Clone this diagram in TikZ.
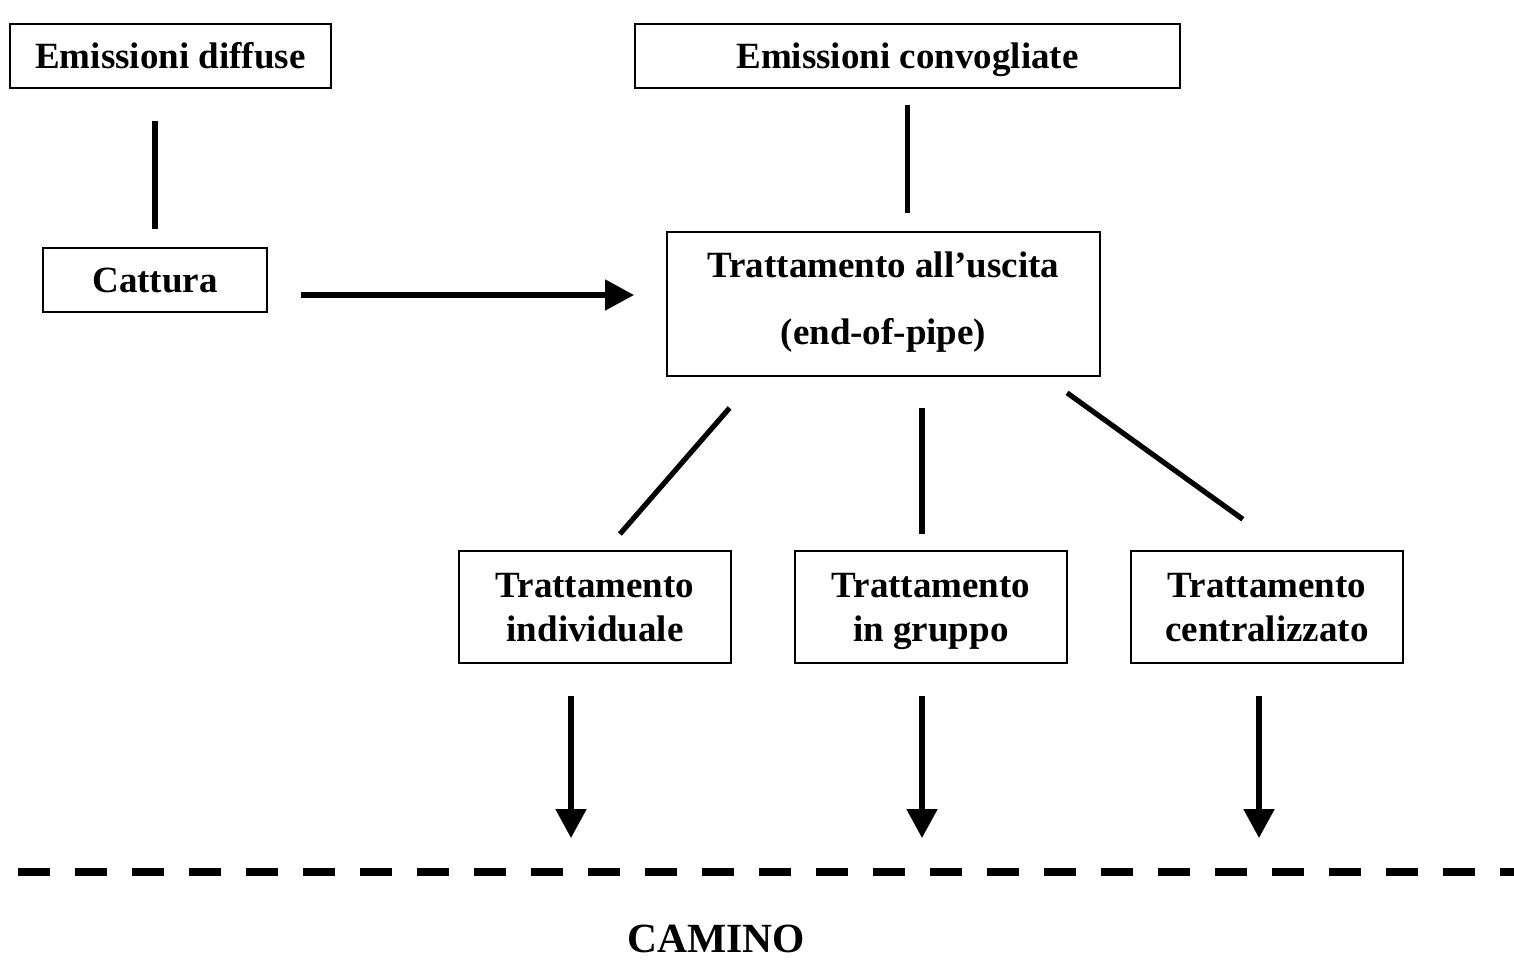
\documentclass[tikz,border=0pt]{standalone}
\usepackage{fontspec}
\setmainfont{Liberation Serif}
\usetikzlibrary{arrows.meta}
\newcommand{\boxstrut}{\rule[-4.8pt]{0pt}{21.8pt}}
\newcommand{\deepstrut}{\rule[-10.5pt]{0pt}{10.5pt}}
\tikzset{
    box/.style = {draw, line width = 1pt, inner sep = 0pt, align = center,
        font = \fontsize{18.5}{22}\selectfont\bfseries},
    conn/.style = {line width = 2.6pt},
    flow/.style = {line width = 2.6pt, -{Triangle[length = 14.5pt, width = 15pt]}}
}
\begin{document}
\begin{tikzpicture}[x = 0.5pt, y = -0.5pt]
        \useasboundingbox (0, 0) rectangle (1514, 959);
        \node [box, minimum width = 160.5pt, minimum height = 32pt] (ediff) at (170.5, 56) {\boxstrut Emissioni diffuse};
        \node [box, minimum width = 272.5pt, minimum height = 32pt] (econv) at (907.5, 56) {\boxstrut Emissioni convogliate};
        \node [box, minimum width = 112pt, minimum height = 32pt] (cattura) at (155, 280) {\boxstrut Cattura};
        \node [box, minimum width = 216.5pt, minimum height = 72pt] (eop) at (883.5, 304) {\boxstrut Trattamento all’uscita\\[11.5pt](end-of-pipe)\deepstrut};
        \node [box, minimum width = 136pt, minimum height = 56pt] (tind) at (595, 607) {\boxstrut Trattamento\\individuale\boxstrut};
        \node [box, minimum width = 136pt, minimum height = 56pt] (tgrp) at (931, 607) {\boxstrut Trattamento\\in gruppo\boxstrut};
        \node [box, minimum width = 136pt, minimum height = 56pt] (tcen) at (1267, 607) {\boxstrut Trattamento\\centralizzato\boxstrut};
        \node [font = \fontsize{20.75}{24}\selectfont\bfseries, inner sep = 0pt] (camino) at (716, 939) {CAMINO};
        \coordinate (dl) at (18, 872);
        \coordinate (dr) at (1514, 872);
        \draw [conn, shorten <= 16pt, shorten >= 9pt] (ediff.south -| cattura) -- (cattura.north);
        \draw [conn, shorten <= 8pt, shorten >= 9pt] (econv.south) -- (econv.south |- eop.north);
        \draw [flow, shorten <= 16.5pt, shorten >= 16pt] ([yshift = -7.5pt]cattura.east) -- ([yshift = -7.5pt]cattura.east -| eop.west);
        \draw [conn, shorten <= 20.5pt, shorten >= 10.6pt] ([xshift = -63.5pt]eop.south) -- ([xshift = 5.5pt]tind.north);
        \draw [conn, shorten <= 15.5pt, shorten >= 8pt] ([xshift = 19.25pt]eop.south) -- ([xshift = -4.5pt]tgrp.north);
        \draw [conn, shorten <= 13.6pt, shorten >= 26.35pt] ([xshift = 80.75pt]eop.south) -- ([xshift = 9.3pt]tcen.north);
        \draw [flow, shorten <= 16pt, shorten >= 17pt] ([xshift = -12pt]tind.south) -- ([xshift = -12pt]tind.south |- dl);
        \draw [flow, shorten <= 16pt, shorten >= 17pt] ([xshift = -4.5pt]tgrp.south) -- ([xshift = -4.5pt]tgrp.south |- dl);
        \draw [flow, shorten <= 16pt, shorten >= 17pt] ([xshift = -4pt]tcen.south) -- ([xshift = -4pt]tcen.south |- dl);
        \draw [line width = 4pt, dash pattern = on 16pt off 12.5pt] (dl) -- (dr);
    \end{tikzpicture}
\end{document}
